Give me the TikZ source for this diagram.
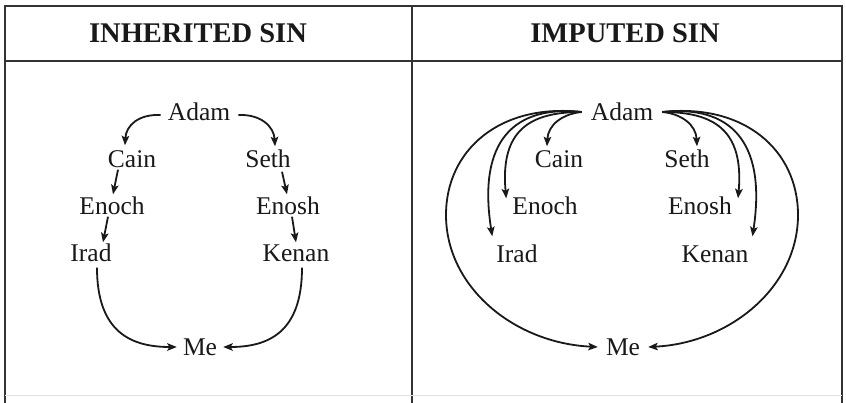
\documentclass[tikz,border=0pt]{standalone}
\usepackage{fontspec}
\setmainfont{Liberation Serif}
\usetikzlibrary{arrows.meta}
\begin{document}
\begin{tikzpicture}[x=1pt,y=-1pt,
  nm/.style={text height=17pt, text depth=0pt, inner sep=2pt, font=\fontsize{25.5}{29}\selectfont, text=black!90},
  hdr/.style={inner sep=2pt, font=\fontsize{28.5}{32}\selectfont\bfseries, text=black!90},
  frame/.style={line width=2.2pt, draw=black!80},
  arr/.style={line width=1.8pt, draw=black!90, -{Stealth[length=9.5pt,width=7.5pt,inset=2pt]}}
]
\fill[white] (0,0) rectangle (846,403);
\useasboundingbox (0,0) rectangle (846,403);
% frame
\draw[frame] (5,403) -- (5,6) -- (842,6) -- (842,403);
\draw[frame] (412,6) -- (412,403);
\draw[frame] (5,61) -- (842,61);
\draw[line width=0.8pt, draw=black!12] (5,395) -- (842,395);
% headers
\node[hdr] (hdrL) at (198,33) {INHERITED SIN};
\node[hdr] (hdrR) at (625,33) {IMPUTED SIN};
% left panel nodes
\node[nm] (adamL)  at (199,112) {Adam};
\node[nm] (cainL)  at (132,159) {Cain};
\node[nm] (sethL)  at (268,159) {Seth};
\node[nm] (enochL) at (112,206) {Enoch};
\node[nm] (enoshL) at (288,206) {Enosh};
\node[nm] (iradL)  at (91,253) {Irad};
\node[nm] (kenanL) at (296,253) {Kenan};
\node[nm] (meL)    at (200,347) {Me};
% left panel arrows
\draw[arr] ([yshift=-3pt,xshift=-5pt]adamL.west) .. controls +(-22,-1) and +(1,-20) .. ([xshift=-7pt,yshift=3pt]cainL.north);
\draw[arr] ([yshift=-3pt,xshift=6pt]adamL.east) .. controls +(22,-1) and +(-1,-20) .. ([xshift=7pt,yshift=2pt]sethL.north);
\draw[arr] ([xshift=-14pt]cainL.south) -- ([xshift=1pt,yshift=1pt]enochL.north);
\draw[arr] ([xshift=14pt,yshift=-2pt]sethL.south) -- ([xshift=-1pt,yshift=1pt]enoshL.north);
\draw[arr] ([xshift=-4pt]enochL.south) -- ([xshift=12pt]iradL.north);
\draw[arr] ([xshift=4pt]enoshL.south) -- (kenanL.north);
\draw[arr] ([xshift=6pt,yshift=-4pt]iradL.south) .. controls +(0,65) and +(-45,0) .. ([xshift=-4pt]meL.west);
\draw[arr] ([xshift=6pt,yshift=-4pt]kenanL.south) .. controls +(0,65) and +(45,0) .. ([xshift=4pt]meL.east);
% right panel nodes
\node[nm] (adamR)  at (622,112) {Adam};
\node[nm] (cainR)  at (559,159) {Cain};
\node[nm] (sethR)  at (687,159) {Seth};
\node[nm] (enochR) at (545,206) {Enoch};
\node[nm] (enoshR) at (700,206) {Enosh};
\node[nm] (iradR)  at (517,254) {Irad};
\node[nm] (kenanR) at (715,254) {Kenan};
\node[nm] (meR)    at (623,347) {Me};
% right panel arrows, left side
\draw[arr] ([xshift=-7pt]adamR.west) .. controls (562,114) and (548,125) .. ([xshift=-12pt,yshift=2pt]cainR.north);
\draw[arr] ([xshift=-7pt]adamR.west) .. controls (530,112) and (500,130) .. ([xshift=-4pt,yshift=-3pt]enochR.north west);
\draw[arr] ([xshift=-7pt]adamR.west) .. controls (515,105) and (477,140) .. ([xshift=-2pt,yshift=7pt]iradR.north west);
\draw[arr] ([xshift=-7pt]adamR.west) .. controls (500,103) and (446,150) .. (446,215)
   .. controls (446,287) and (514,343) .. ([xshift=-6pt]meR.west);
% right panel arrows, right side
\draw[arr] ([xshift=7pt]adamR.east) .. controls (682,114) and (696,125) .. ([xshift=10pt,yshift=2pt]sethR.north);
\draw[arr] ([xshift=7pt]adamR.east) .. controls (714,112) and (744,130) .. ([xshift=4pt,yshift=-3pt]enoshR.north east);
\draw[arr] ([xshift=7pt]adamR.east) .. controls (729,105) and (767,140) .. ([xshift=2pt,yshift=7pt]kenanR.north east);
\draw[arr] ([xshift=7pt]adamR.east) .. controls (744,103) and (798,150) .. (798,215)
   .. controls (798,287) and (730,343) .. ([xshift=6pt]meR.east);
\end{tikzpicture}
\end{document}
